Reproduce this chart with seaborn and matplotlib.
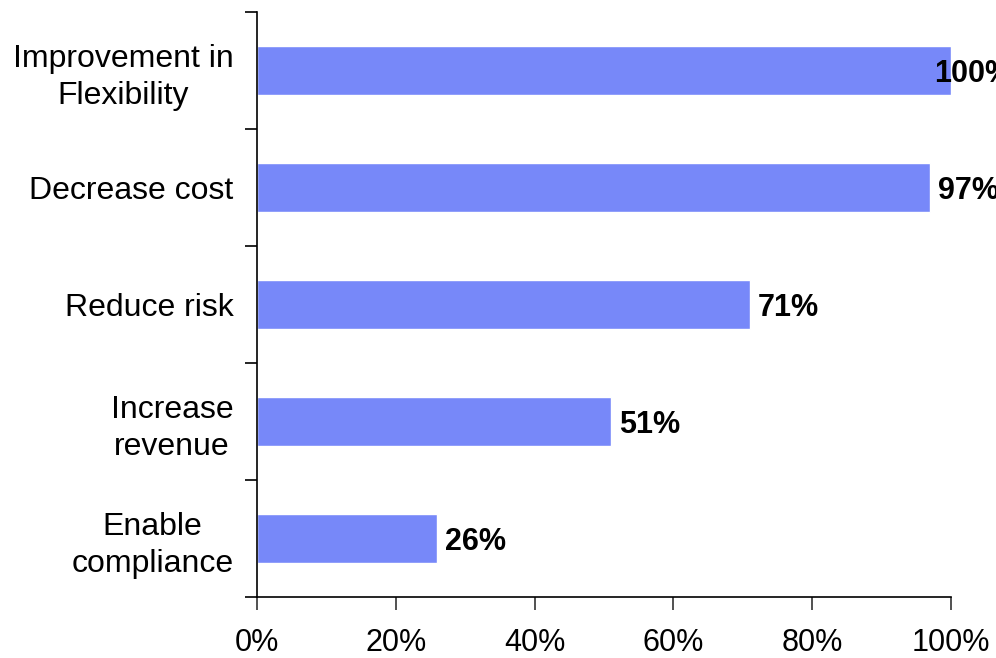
import numpy as np
import pandas as pd
import matplotlib
matplotlib.use("Agg")
import matplotlib.pyplot as plt
import seaborn as sns

categories = ["Improvement in\nFlexibility", "Decrease cost", "Reduce risk",
              "Increase\nrevenue", "Enable\ncompliance"]
values = [100, 97, 71, 51, 26]
x_ticks = [0, 20, 40, 60, 80, 100]

sns.set_style("ticks")
plt.rcParams["font.family"] = ["Liberation Sans", "DejaVu Sans"]
plt.rcParams["text.color"] = "black"

df = pd.DataFrame({"category": categories, "value": values})

fig = plt.figure(figsize=(9.96, 6.58), dpi=100)
ax = fig.add_axes([257 / 996, 1 - 597 / 658, (951 - 257) / 996, (597 - 12) / 658])

sns.barplot(data=df, y="category", x="value", orient="h", color="#7788F9",
            saturation=1, width=0.42, ax=ax)

ax.set_xlim(0, 100)
ax.set_ylim(4.5, -0.5)
ax.set_xticks(x_ticks)
ax.set_xticklabels([f"{t}%" for t in x_ticks])
ax.set_xlabel("")
ax.set_ylabel("")

# ticks sit between the categories, labels stay centred
ax.set_yticks(np.arange(-0.5, len(categories)), minor=True)
ax.tick_params(axis="y", which="major", length=0, pad=17, labelsize=23)
ax.tick_params(axis="y", which="minor", length=9, width=1.2, color="black")
ax.tick_params(axis="x", length=9, width=1.2, color="#333333", pad=13, labelsize=22)
for lab in ax.get_yticklabels():
    lab.set_multialignment("center")
    lab.set_linespacing(1.3)
    lab.set_color("black")
for lab in ax.get_xticklabels():
    lab.set_color("black")

sns.despine(ax=ax)
for side in ["left", "bottom"]:
    ax.spines[side].set_color("black")
    ax.spines[side].set_linewidth(1.2)

for i, v in enumerate(values):
    off = -17 if v >= 100 else 8
    ax.annotate(f"{v}%", xy=(v, i), xytext=(off * 0.72, -2.5), textcoords="offset points",
                ha="left", va="center", fontsize=22, fontweight="bold",
                color="black", annotation_clip=False)

fig.savefig("out.png", dpi=100)
